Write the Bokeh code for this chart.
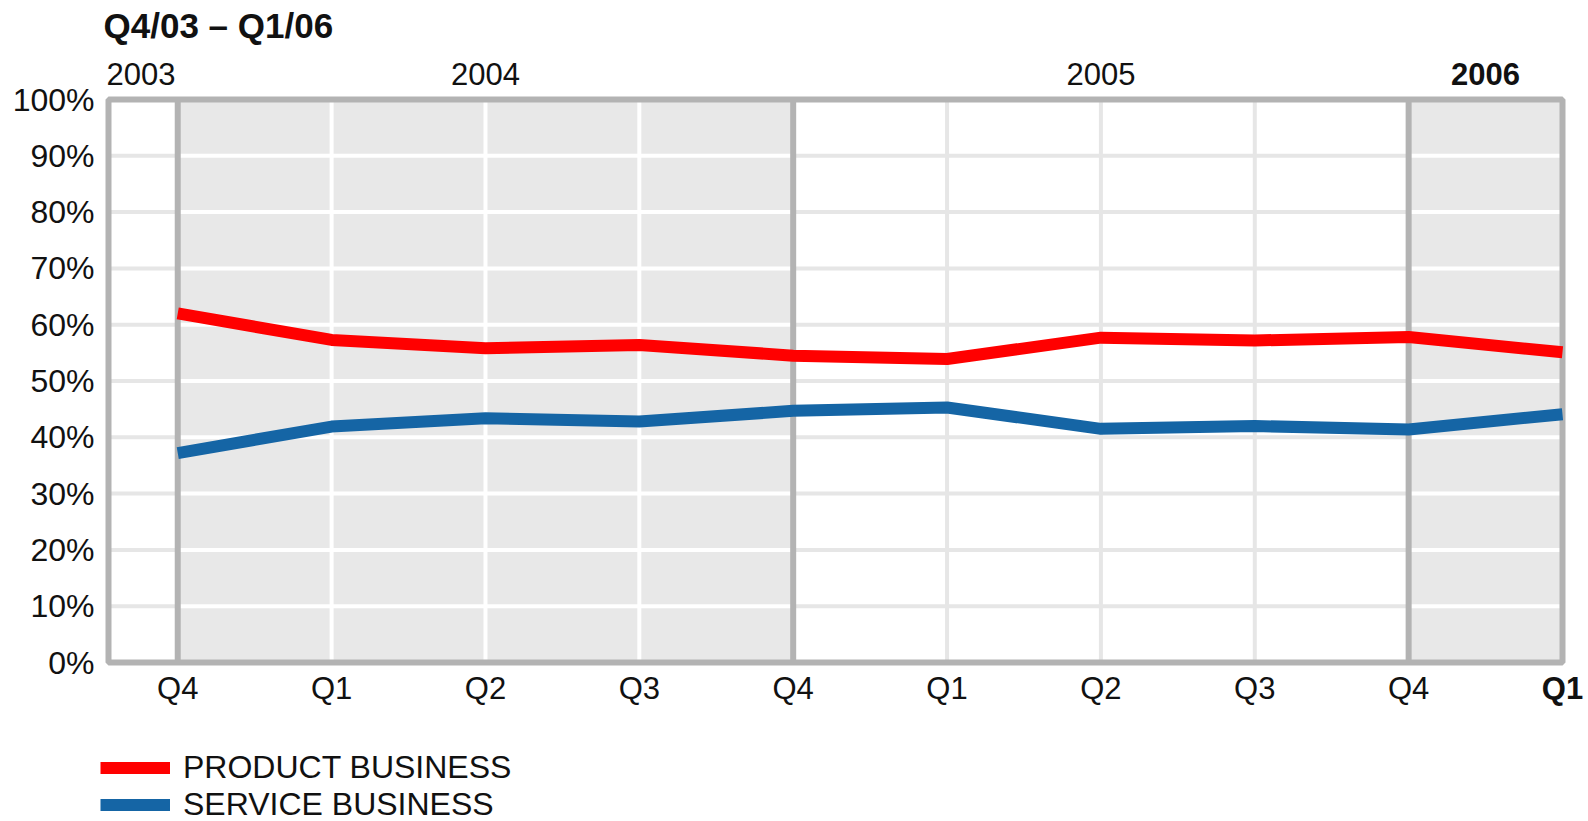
from bokeh.plotting import figure
from bokeh.models import Range1d, Legend, LegendItem
from bokeh.core.properties import value
from bokeh.embed import file_html
from bokeh.resources import INLINE

# ---- data ----
quarters = ["Q4", "Q1", "Q2", "Q3", "Q4", "Q1", "Q2", "Q3", "Q4", "Q1"]
years = ["2003", "2004", "2005", "2006"]
product = [62.0, 57.3, 55.8, 56.4, 54.5, 53.9, 57.7, 57.2, 57.8, 55.1]
service = [37.2, 41.9, 43.4, 42.8, 44.7, 45.3, 41.5, 42.0, 41.4, 44.1]
y_ticks = [0, 10, 20, 30, 40, 50, 60, 70, 80, 90, 100]
y_labels = ["0%", "10%", "20%", "30%", "40%", "50%", "60%", "70%", "80%", "90%", "100%"]
title_text = "Q4/03 – Q1/06"
series_names = ["PRODUCT BUSINESS", "SERVICE BUSINESS"]

FONT = "Liberation Sans"
TXT = "#111111"
BORDER = "#b3b3b3"
SHADE = "#e8e8e8"
GRIDC = "#e6e6e6"
RED = "#ff0000"
BLUE = "#1565a5"

W, H = 1588, 821
# chart box in pixels and in data units
BX0, BX1, BY0, BY1 = 108, 1562, 99, 662
x = list(range(len(quarters)))
XL, XR = -0.45, x[-1]
YB, YT = y_ticks[0], y_ticks[-1]
UX = (BX1 - BX0) / (XR - XL)
UY = (BY1 - BY0) / (YT - YB)
BASE_FIX = 12  # alphabetic baseline correction (px)


def dx(px):
    return XL + (px - BX0) / UX


def dy(py):
    return YB + (BY1 - py) / UY


def dyb(py):
    return dy(py - BASE_FIX)


p = figure(width=W, height=H,
           x_range=Range1d(dx(0), dx(W)), y_range=Range1d(dy(H), dy(0)),
           output_backend="svg", toolbar_location=None,
           min_border=0, min_border_left=0, min_border_right=0,
           min_border_top=0, min_border_bottom=0)
p.axis.visible = False
p.grid.visible = False
p.outline_line_color = None
p.background_fill_color = "white"
p.border_fill_color = "white"

year_divs = [i for i, q in enumerate(quarters) if q == "Q4"]          # 0, 4, 8
shaded = [(year_divs[0], year_divs[1]), (year_divs[2], x[-1])]

# light grid (white areas)
inner_y = y_ticks[1:-1]
p.segment(x0=[XL] * len(inner_y), y0=inner_y, x1=[XR] * len(inner_y), y1=inner_y,
          line_color=GRIDC, line_width=4)
p.segment(x0=x[1:-1], y0=YB, x1=x[1:-1], y1=YT, line_color=GRIDC, line_width=4)

# shaded year areas
p.quad(left=[a for a, b in shaded], right=[b for a, b in shaded],
       bottom=YB, top=YT, fill_color=SHADE, line_color=None)

# white gridlines inside shaded areas
hx0, hx1, hy = [], [], []
for a, b in shaded:
    for t in inner_y:
        hx0.append(a); hx1.append(b); hy.append(t)
p.segment(x0=hx0, y0=hy, x1=hx1, y1=hy, line_color="white", line_width=4)
vx = [i for i in x if any(a < i < b for a, b in shaded)]
p.segment(x0=vx, y0=YB, x1=vx, y1=YT, line_color="white", line_width=4)

# year dividers
p.segment(x0=year_divs, y0=YB, x1=year_divs, y1=YT, line_color=BORDER, line_width=6)

# chart box
p.quad(left=[XL], right=[XR], bottom=[YB], top=[YT], fill_color=None,
       line_color=BORDER, line_width=6)

# data lines
r1 = p.line(x, product, line_color=RED, line_width=12, line_join="round")
r2 = p.line(x, service, line_color=BLUE, line_width=12, line_join="round")

# y tick labels
p.text(x=[dx(BX0 - 14)] * len(y_ticks), y=y_ticks, text=y_labels,
       text_align="right", text_baseline="middle", text_font=value(FONT),
       text_font_size="32px", text_color=TXT)

# quarter labels
base_q = dyb(700)
p.text(x=x[:-1], y=[base_q] * (len(x) - 1), text=quarters[:-1],
       text_align="center", text_baseline="alphabetic", text_font=value(FONT),
       text_font_size="31px", text_color=TXT)
p.text(x=[x[-1]], y=[base_q], text=[quarters[-1]],
       text_align="center", text_baseline="alphabetic", text_font=value(FONT),
       text_font_size="31px", text_font_style="bold", text_color=TXT)

# year labels
base_y = dyb(85)
year_pos = [dx(106), 2, 6, 8.5]
p.text(x=[year_pos[0]], y=[base_y], text=[years[0]], text_align="left",
       text_baseline="alphabetic", text_font=value(FONT), text_font_size="31px",
       text_color=TXT)
p.text(x=year_pos[1:3], y=[base_y] * 2, text=years[1:3], text_align="center",
       text_baseline="alphabetic", text_font=value(FONT), text_font_size="31px",
       text_color=TXT)
p.text(x=[year_pos[3]], y=[base_y], text=[years[3]], text_align="center",
       text_baseline="alphabetic", text_font=value(FONT), text_font_size="31px",
       text_font_style="bold", text_color=TXT)

# title
p.text(x=[dx(103)], y=[dyb(37)], text=[title_text], text_align="left",
       text_baseline="alphabetic", text_font=value(FONT), text_font_size="35px",
       text_font_style="bold", text_color=TXT)

# legend
legend = Legend(items=[LegendItem(label=series_names[0], renderers=[r1]),
                       LegendItem(label=series_names[1], renderers=[r2])],
                location=(100, -2), glyph_width=70, glyph_height=35,
                label_height=35, label_standoff=13, spacing=0, padding=0, margin=0,
                border_line_alpha=0, background_fill_alpha=0,
                label_text_font=FONT, label_text_font_size="32px",
                label_text_color=TXT)
p.add_layout(legend, "center")

open("out.html", "w").write(file_html(p, INLINE))
